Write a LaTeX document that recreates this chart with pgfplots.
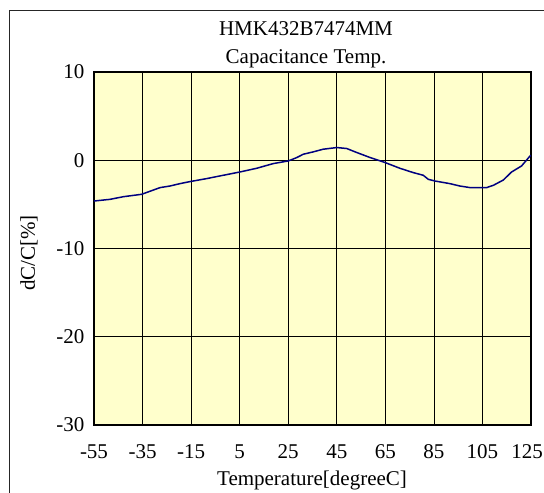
\documentclass[border=0pt]{standalone}
\usepackage{fontspec}
\setmainfont{Liberation Serif}
\usepackage{pgfplots}
\pgfplotsset{compat=1.18}
\definecolor{bgyellow}{HTML}{FFFFCC}
\definecolor{curve}{HTML}{000080}
\begin{document}
\begin{tikzpicture}[x=1pt,y=1pt]
\useasboundingbox (0,0) rectangle (544,493);
\draw[line width=0.9pt, black!85] (9,-10) -- (9,483) -- (560,483);
\begin{axis}[
  scale only axis, width=437pt, height=353pt,
  at={(94pt,68pt)}, anchor=south west,
  xmin=-55, xmax=125, ymin=-30, ymax=10,
  xtick={-55,-35,-15,5,25,45,65,85,105,125},
  xticklabels={-55,-35,-15,5,25,45,65,85,105,\kern-8pt 125},
  ytick={-30,-20,-10,0,10},
  yticklabels={-30,-20,-10,0,10},
  grid=major, major grid style={black, line width=0.75pt},
  axis line style={black, line width=1.6pt},
  major tick length=0pt,
  axis background/.style={fill=bgyellow},
  tick label style={font=\fontsize{21}{25}\selectfont},
  xticklabel style={anchor=center, yshift=-26.5pt},
  yticklabel style={anchor=east, xshift=-6pt},
]
\addplot[curve, line width=1.5pt, mark=none] coordinates {
(-55,-4.62) (-48.4,-4.43) (-42.9,-4.13) (-35.4,-3.86) (-32,-3.52) (-27.8,-3.1)
(-23.7,-2.92) (-19.6,-2.65) (-15.5,-2.42) (-8.6,-2.08) (-1.7,-1.7) (5.1,-1.33)
(12,-0.91) (18.8,-0.38) (25,-0.08) (28.5,0.3) (31.2,0.68) (35.3,0.95) (39.4,1.25)
(45,1.44) (49.1,1.33) (53.2,0.88) (58.7,0.31) (64.9,-0.26) (71,-0.91) (76.5,-1.4)
(80.6,-1.7) (82.7,-2.16) (85.4,-2.35) (91.6,-2.65) (95.7,-2.92) (99.9,-3.1)
(106.7,-3.1) (109.5,-2.84) (113.6,-2.24) (117,-1.33) (121.1,-0.65) (124.6,0.48) (125,0.55)
};
\end{axis}
\node[anchor=base, font=\fontsize{21}{25}\selectfont, inner sep=0pt] at (306,457) {HMK432B7474MM};
\node[anchor=base, font=\fontsize{21}{25}\selectfont, inner sep=0pt] at (306,429) {Capacitance Temp.};
\node[anchor=base, font=\fontsize{21}{25}\selectfont, inner sep=0pt] at (312,7) {Temperature[degreeC]};
\node[anchor=center, rotate=90, font=\fontsize{21}{25}\selectfont, inner sep=0pt] at (29,240) {dC/C[\%]};
\end{tikzpicture}
\end{document}
